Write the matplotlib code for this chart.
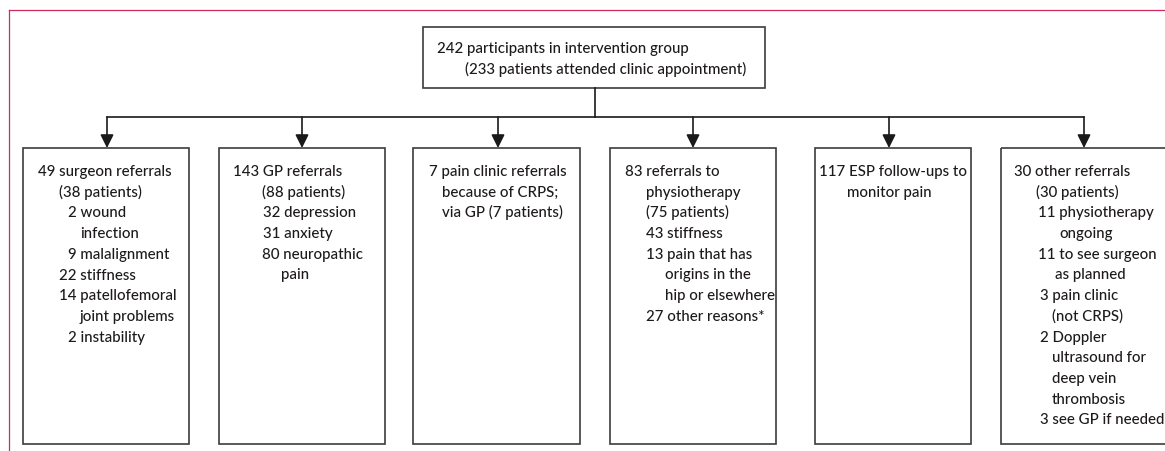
import matplotlib.pyplot as plt

plt.rcParams['font.family'] = ['Lato', 'DejaVu Sans']

# --- text content ---
top_lines = ["242 participants in intervention group",
             "(233 patients attended clinic appointment)"]

box_lines = [
    ["49 surgeon referrals", "(38 patients)", "2 wound", "infection",
     "9 malalignment", "22 stiffness", "14 patellofemoral", "joint problems",
     "2 instability"],
    ["143 GP referrals", "(88 patients)", "32 depression", "31 anxiety",
     "80 neuropathic", "pain"],
    ["7 pain clinic referrals", "because of CRPS;", "via GP (7 patients)"],
    ["83 referrals to", "physiotherapy", "(75 patients)", "43 stiffness",
     "13 pain that has", "origins in the", "hip or elsewhere",
     "27 other reasons*"],
    ["117 ESP follow-ups to", "monitor pain"],
    ["30 other referrals", "(30 patients)", "11 physiotherapy", "ongoing",
     "11 to see surgeon", "as planned", "3 pain clinic", "(not CRPS)",
     "2 Doppler", "ultrasound for", "deep vein", "thrombosis",
     "3 see GP if needed"],
]

# --- layout (pixels) ---
W, H = 1165, 451
box_left = [23, 219, 413, 610, 815, 1001]
box_right = [189, 385, 580, 776, 971, 1170]
arrow_x = [107, 302, 498, 693, 889, 1084]
box_top, box_bottom = 148, 444
bus_y = 117
top_box = (423, 27, 765, 88)
top_stem_x = 595

indents = [
    [15, 36, 45, 57, 45, 36, 36, 57, 45],
    [14, 43, 44, 44, 43, 62],
    [16, 29, 29],
    [15, 36, 36, 36, 36, 55, 55, 36],
    [4, 32],
    [13, 35, 37, 58, 37, 54, 39, 51, 39, 51, 51, 51, 39],
]
first_base = 176
line_step = 20.7

text_col = '#1e1a1b'
box_col = '#3c3c3c'
pink = '#d22a5c'
fs = 10.8
lw = 1.2

fig = plt.figure(figsize=(W / 100, H / 100), dpi=100)
ax = fig.add_axes([0, 0, 1, 1])
ax.set_xlim(0, W)
ax.set_ylim(H, 0)
ax.axis('off')

# pink frame (top and left)
ax.plot([9, W], [10, 10], color=pink, lw=0.9)
ax.plot([9, 9], [10, H], color=pink, lw=0.9)

# top box
x0, y0, x1, y1 = top_box
ax.add_patch(plt.Rectangle((x0, y0), x1 - x0, y1 - y0, fill=False,
                           ec=box_col, lw=lw))
ax.text(437, 53, top_lines[0], fontsize=fs, color=text_col, va='baseline',
        fontweight=500)
ax.text(465, 74, top_lines[1], fontsize=fs, color=text_col, va='baseline',
        fontweight=500)

# connectors
ax.plot([top_stem_x, top_stem_x], [y1, bus_y], color='#1a1a1a', lw=lw)
ax.plot([arrow_x[0], arrow_x[-1]], [bus_y, bus_y], color='#1a1a1a', lw=lw)
for ax_x in arrow_x:
    ax.annotate('', xy=(ax_x, box_top), xytext=(ax_x, bus_y),
                arrowprops=dict(arrowstyle='-|>,head_length=0.8,head_width=0.4',
                                color='#1a1a1a', lw=lw, shrinkA=0, shrinkB=0))

# child boxes
for i, lines in enumerate(box_lines):
    l, r = box_left[i], box_right[i]
    ax.add_patch(plt.Rectangle((l, box_top), r - l, box_bottom - box_top,
                               fill=False, ec=box_col, lw=lw, clip_on=False))
    for j, s in enumerate(lines):
        ax.text(l + indents[i][j], first_base + j * line_step, s,
                fontsize=fs, color=text_col, va='baseline', fontweight=500)

fig.savefig('out.png', dpi=100)
